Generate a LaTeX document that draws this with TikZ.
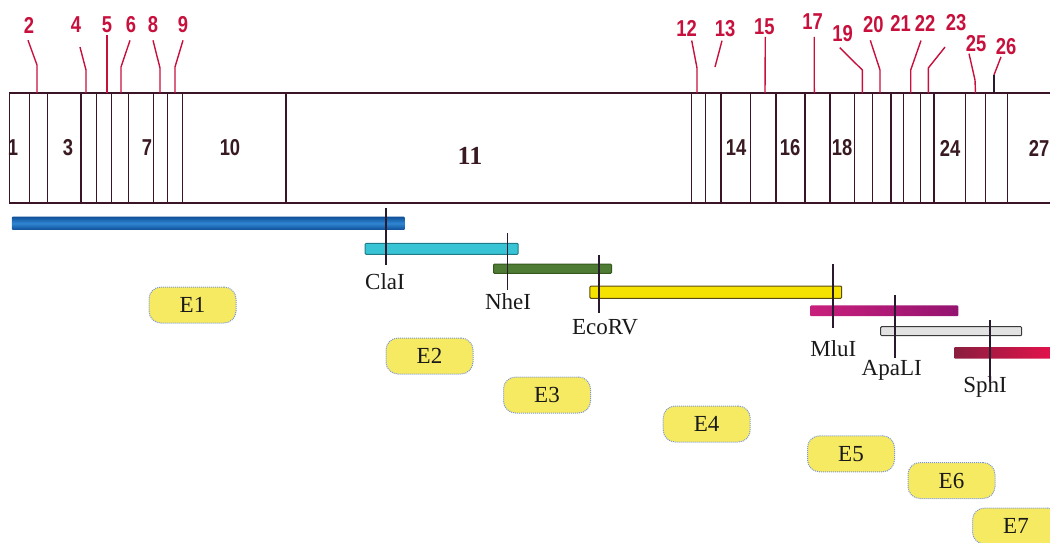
\documentclass[tikz,border=0pt]{standalone}
\usepackage{fontspec}
\setmainfont{Liberation Serif}
\newfontfamily\numfont[FakeStretch=0.8]{Liberation Sans}
\definecolor{segline}{HTML}{3C1428}
\definecolor{leadred}{HTML}{C8103C}
\definecolor{inkdark}{HTML}{3A1A22}
\definecolor{cutline}{HTML}{2A1A30}
\definecolor{eyellow}{HTML}{F6EA62}
\definecolor{eborder}{HTML}{7A95D8}
\definecolor{blueedge}{HTML}{0E4F98}
\definecolor{bluemid}{HTML}{2F86D2}
\definecolor{cyanfill}{HTML}{38C4D4}
\definecolor{cyanedge}{HTML}{1E7C88}
\definecolor{greenfill}{HTML}{4F7C34}
\definecolor{greenedge}{HTML}{35581F}
\definecolor{yellowfill}{HTML}{F5E200}
\definecolor{yellowedge}{HTML}{5A4A10}
\definecolor{magleft}{HTML}{C8207C}
\definecolor{magright}{HTML}{941470}
\definecolor{greyfill}{HTML}{E2E2E2}
\definecolor{greyedge}{HTML}{3A3A3A}
\definecolor{redleft}{HTML}{8A1E3E}
\definecolor{redmid}{HTML}{E01450}
\definecolor{redright}{HTML}{EE104E}
\tikzset{
  seg/.style={draw=segline, line width=1.3pt, minimum height=110pt, inner sep=0pt},
  inlab/.style={font=\numfont\bfseries\fontsize{23}{25}\selectfont, text=inkdark, inner sep=0pt},
  biglab/.style={font=\bfseries\fontsize{26}{28}\selectfont, text=inkdark, inner sep=0pt},
  toplab/.style={font=\numfont\bfseries\fontsize{23}{25}\selectfont, text=leadred, inner sep=0pt},
  leader/.style={draw=leadred, line width=1.4pt},
  cut/.style={draw=cutline, line width=1.6pt},
  site/.style={font=\fontsize{23}{25}\selectfont, text=black!90, inner sep=0pt},
  bar/.style={inner sep=0pt, line width=1pt, rounded corners=1pt},
  ebox/.style={rounded corners=12pt, fill=eyellow, draw=eborder, densely dotted, line width=1pt,
    minimum width=87pt, minimum height=36pt, inner sep=0pt,
    font=\fontsize{23}{25}\selectfont, text=black!90}
}
\begin{document}
\begin{tikzpicture}[x=1pt,y=-1pt]
\useasboundingbox (0,0) rectangle (1050,542);
\clip (0,0) rectangle (1050,542);

% segments of the map
\foreach \a/\b [count=\i] in {9.3/29.3, 29.3/47.7, 47.7/81, 81/96.7, 96.7/111.7, 111.7/128.3,
  128.3/153.3, 153.3/167.7, 167.7/182.7, 182.7/286, 286/691.7, 691.7/705.7, 705.7/721,
  721/750.7, 750.7/776, 776/805, 805/830, 830/854.3, 854.3/872.3, 872.3/891, 891/903.3,
  903.3/920.7, 920.7/934, 934/965.7, 965.7/985.7, 985.7/1007.7, 1007.7/1070}
  \node[seg, minimum width={(\b-\a)*1pt}] (s\i) at ({(\a+\b)/2},148) {};

% labels inside segments
\node[inlab] (t1) at (13,148) {1};
\node[inlab] (t3) at (68,148) {3};
\node[inlab] (t7) at (147,148) {7};
\node[inlab] (t10) at (230,148) {10};
\node[biglab] (t11) at (470,156) {11};
\node[inlab] (t14) at (736,148) {14};
\node[inlab] (t16) at (790,148) {16};
\node[inlab] (t18) at (842,148) {18};
\node[inlab] (t24) at (950,148) {24};
\node[inlab] (t27) at (1039,148) {27};

% top labels
\node[toplab] (l2) at (29,25) {2};
\node[toplab] (l4) at (76,25) {4};
\node[toplab] (l5) at (107,25) {5};
\node[toplab] (l6) at (131,25) {6};
\node[toplab] (l8) at (153,25) {8};
\node[toplab] (l9) at (183,25) {9};
\node[toplab] (l12) at (686.7,28.3) {12};
\node[toplab] (l13) at (725,28.3) {13};
\node[toplab] (l15) at (764.3,26.7) {15};
\node[toplab] (l17) at (812.7,21.7) {17};
\node[toplab] (l19) at (842.7,33.3) {19};
\node[toplab] (l20) at (873.3,25) {20};
\node[toplab] (l21) at (900.7,23.3) {21};
\node[toplab] (l22) at (925,23.3) {22};
\node[toplab] (l23) at (956,22.7) {23};
\node[toplab] (l25) at (976,43.3) {25};
\node[toplab] (l26) at (1006,46.5) {26};

% leaders
\draw[leader] (l2.south) ++(-1,7) -- (37,65) -- (37,93);
\draw[leader] (l4.south) ++(4,14) -- (86,70) -- (86,93);
\draw[leader] (l5.south) ++(0,2) -- (107,93);
\draw[leader] (l6.south) ++(-1,7) -- (121,67) -- (121,93);
\draw[leader] (l8.south) ++(0,7) -- (160,68) -- (160,93);
\draw[leader] (l9.south) ++(0,7) -- (175,67) -- (175,93);
\draw[leader] (l12.south) ++(5,4) -- (697,68) -- (697,93);
\draw[leader] (l13.south) ++(-3,4) -- (715,67);
\draw[leader] (l15.south) ++(1,2) -- (765,93);
\draw[leader] (l17.south) ++(1.5,7) -- (814.3,93);
\draw[leader] (l19.south) ++(-3,6) -- (862.3,70) -- (862.3,93);
\draw[leader] (l20.south) ++(-3,7) -- (880,70) -- (880,93);
\draw[leader] (l22.south) ++(-4,9) -- (910.7,70) -- (910.7,93);
\draw[leader] (l23.south) ++(-11,16) -- (928.3,68) -- (928.3,93);
\draw[leader] (l25.south) ++(-7,2) -- (975,80) -- (975.5,93);
\coordinate (k26) at (994,75);
\draw[leader] (l26.south) ++(-5,2) -- (k26);
\draw[cut] (k26) -- (994,93);

% fragment bars
\node[bar, minimum width=393pt, minimum height=13.3pt,
  top color=blueedge, bottom color=blueedge, middle color=bluemid]
  (bE1) at (208.3,223.3) {};
\node[bar, draw=cyanedge, fill=cyanfill, minimum width=153pt, minimum height=11pt]
  (bE2) at (441.7,248.8) {};
\node[bar, draw=greenedge, fill=greenfill, minimum width=118pt, minimum height=9.3pt]
  (bE3) at (552.5,268.7) {};
\node[bar, draw=yellowedge, fill=yellowfill, minimum width=251.7pt, minimum height=12.3pt]
  (bE4) at (715.8,292.2) {};
\node[bar, minimum width=148.3pt, minimum height=10.7pt,
  left color=magleft, right color=magright]
  (bE5) at (884.2,310.8) {};
\node[bar, draw=greyedge, fill=greyfill, minimum width=141pt, minimum height=9pt]
  (bE6) at (951.2,331.2) {};
\node[bar, minimum width=110pt, minimum height=11.5pt,
  left color=redleft, middle color=redmid, right color=redright]
  (bE7) at (1009,352.8) {};

% restriction sites
\node[site] (cla) at (385,281.5) {ClaI};
\node[site] (nhe) at (508,301.5) {NheI};
\node[site] (eco) at (605,327) {EcoRV};
\node[site] (mlu) at (833.3,349) {MluI};
\node[site] (apa) at (891.7,370) {ApaLI};
\node[site] (sph) at (985,387) {SphI};
\draw[cut] (386,208) -- (386,265);
\draw[cut] (507.3,233) -- (507.3,290);
\draw[cut] (598.7,255) -- (598.7,313.3);
\draw[cut] (832.7,264) -- (832.7,328);
\draw[cut] (895,295) -- (895,358.3);
\draw[cut] (990,320) -- (990,381.7);

% fragment names
\node[ebox] (e1) at (192.5,305) {E1};
\node[ebox] (e2) at (429.5,356) {E2};
\node[ebox] (e3) at (547,395) {E3};
\node[ebox] (e4) at (706.7,424) {E4};
\node[ebox] (e5) at (851,453.8) {E5};
\node[ebox] (e6) at (951.5,480.5) {E6};
\node[ebox] (e7) at (1016,526) {E7};
\end{tikzpicture}
\end{document}
